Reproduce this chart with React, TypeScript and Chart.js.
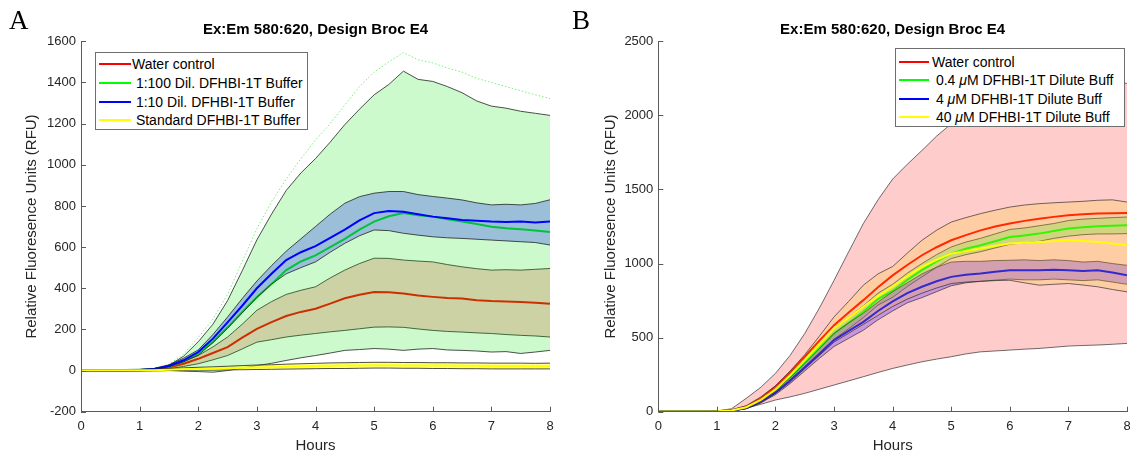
import React, { useEffect, useRef } from 'react';
import { Chart, registerables } from 'chart.js';

Chart.register(...registerables);

const FONT = '"Liberation Sans", Arial, Helvetica, sans-serif';
Chart.defaults.font.family = FONT;

// ---------- data ----------
const HOURS = [0, 0.25, 0.5, 0.75, 1, 1.25, 1.5, 1.75, 2, 2.25, 2.5, 2.75, 3, 3.25, 3.5, 3.75, 4, 4.25, 4.5, 4.75, 5, 5.25, 5.5, 5.75, 6, 6.25, 6.5, 6.75, 7, 7.25, 7.5, 7.75, 8];
const X_TICKS = [0, 1, 2, 3, 4, 5, 6, 7, 8];
const A_Y_TICKS = [-200, 0, 200, 400, 600, 800, 1000, 1200, 1400, 1600];
const B_Y_TICKS = [0, 500, 1000, 1500, 2000, 2500];

const TITLE = 'Ex:Em 580:620, Design Broc E4';
const X_LABEL = 'Hours';
const Y_LABEL = 'Relative Fluoresence Units (RFU)';

const A_LABELS = ['Water control', ' 1:100 Dil. DFHBI-1T Buffer', ' 1:10 Dil. DFHBI-1T Buffer', ' Standard DFHBI-1T Buffer'];
const B_LABELS = ['Water control', ' 0.4 μM DFHBI-1T Dilute Buff', ' 4 μM DFHBI-1T Dilute Buff', ' 40 μM DFHBI-1T Dilute Buff'];
const SERIES_COLORS = ['#ff0000', '#00ff00', '#0000ff', '#ffff00'];

// Panel A: water control (red)
const A_R = [1, 1, 1, 1, 2, 5, 15, 33, 57, 85, 114, 160, 203, 235, 265, 285, 300, 325, 351, 368, 382, 380, 374, 365, 358, 352, 350, 342, 338, 336, 333, 330, 325];
const A_R_HI = [2, 2, 2, 2, 3, 8, 22, 45, 73, 115, 163, 225, 293, 335, 370, 390, 407, 450, 488, 520, 546, 545, 537, 532, 528, 515, 504, 495, 488, 490, 488, 492, 496];
const A_R_LO = [0, 0, 0, 0, 1, 3, 8, 20, 33, 52, 73, 105, 138, 150, 163, 172, 180, 188, 195, 203, 211, 212, 210, 202, 195, 190, 187, 183, 180, 175, 171, 168, 163];
// Panel A: 1:100 dilution (green)
const A_G = [2, 2, 2, 2, 3, 8, 20, 45, 83, 140, 210, 285, 356, 420, 488, 530, 560, 600, 640, 685, 724, 750, 765, 755, 748, 735, 724, 712, 699, 692, 687, 680, 673];
const A_G_HI = [5, 5, 5, 5, 6, 10, 25, 70, 140, 225, 340, 485, 635, 760, 875, 960, 1030, 1110, 1195, 1270, 1340, 1390, 1455, 1415, 1405, 1380, 1350, 1310, 1285, 1275, 1260, 1250, 1240];
const A_G_LO = [-2, -2, -2, -2, -2, -1, 0, -3, -5, -8, 0, 12, 24, 35, 49, 62, 73, 85, 98, 102, 107, 104, 98, 104, 107, 100, 98, 95, 90, 92, 83, 90, 98];
const A_G_DOT = [5, 5, 5, 5, 6, 12, 30, 80, 160, 250, 370, 530, 690, 820, 930, 1030, 1120, 1200, 1290, 1380, 1450, 1500, 1545, 1510, 1495, 1470, 1450, 1420, 1400, 1380, 1360, 1340, 1322];
// Panel A: 1:10 dilution (blue)
const A_B = [2, 2, 2, 2, 3, 8, 22, 50, 90, 155, 234, 315, 400, 470, 537, 575, 605, 645, 685, 730, 765, 775, 772, 760, 748, 740, 732, 728, 724, 722, 724, 720, 724];
const A_B_HI = [3, 3, 3, 3, 4, 10, 28, 60, 100, 175, 260, 350, 435, 510, 580, 640, 700, 760, 813, 845, 862, 870, 870, 855, 846, 838, 829, 815, 805, 808, 805, 812, 830];
const A_B_LO = [1, 1, 1, 1, 2, 6, 18, 42, 75, 135, 205, 280, 355, 420, 470, 500, 528, 575, 618, 655, 683, 680, 667, 658, 650, 645, 642, 638, 634, 630, 626, 622, 610];
// Panel A: standard buffer (yellow)
const A_Y = [1, 1, 1, 1, 1, 2, 4, 6, 8, 9, 11, 13, 15, 16, 18, 20, 22, 23, 24, 25, 26, 26, 25, 25, 24, 24, 23, 23, 22, 22, 22, 21, 21];
const A_Y_HI = [4, 4, 4, 4, 5, 7, 10, 13, 16, 18, 21, 24, 27, 28, 31, 33, 35, 37, 38, 39, 40, 40, 39, 39, 38, 38, 37, 37, 36, 36, 36, 35, 36];
const A_Y_LO = [-2, -2, -2, -2, -2, -1, 0, 1, 2, 2, 3, 4, 5, 6, 7, 8, 9, 10, 10, 11, 12, 12, 11, 11, 10, 10, 9, 9, 8, 8, 8, 8, 8];

// Panel B: water control (red)
const B_R = [2, 2, 2, 2, 3, 10, 35, 90, 169, 265, 371, 480, 584, 670, 753, 840, 920, 990, 1056, 1110, 1157, 1192, 1224, 1250, 1270, 1288, 1303, 1315, 1326, 1332, 1337, 1340, 1341];
const B_R_HI = [3, 3, 3, 3, 5, 20, 90, 165, 259, 380, 528, 700, 887, 1080, 1270, 1430, 1570, 1670, 1763, 1860, 1943, 2010, 2067, 2100, 2130, 2155, 2180, 2195, 2210, 2220, 2230, 2240, 2215];
const B_R_LO = [0, 0, 0, 0, 1, 3, 23, 50, 79, 100, 124, 152, 180, 208, 236, 265, 292, 315, 337, 355, 371, 390, 404, 410, 416, 422, 427, 435, 443, 447, 450, 455, 461];
// Panel B: 0.4 uM (green)
const B_G = [2, 2, 2, 2, 3, 8, 28, 75, 140, 230, 330, 430, 528, 600, 674, 760, 815, 890, 955, 1015, 1067, 1100, 1123, 1150, 1179, 1190, 1202, 1220, 1236, 1245, 1251, 1255, 1258];
const B_G_HI = [3, 3, 3, 3, 4, 10, 33, 85, 155, 250, 355, 460, 565, 640, 715, 800, 860, 935, 1000, 1060, 1112, 1145, 1170, 1200, 1230, 1240, 1255, 1270, 1290, 1300, 1305, 1310, 1314];
const B_G_LO = [1, 1, 1, 1, 2, 6, 23, 65, 125, 210, 305, 400, 490, 560, 635, 720, 772, 845, 910, 975, 1034, 1060, 1080, 1105, 1130, 1140, 1150, 1170, 1185, 1195, 1200, 1200, 1202];
// Panel B: 4 uM (blue)
const B_B = [2, 2, 2, 2, 3, 7, 25, 70, 130, 210, 300, 390, 483, 545, 606, 680, 745, 800, 843, 880, 910, 925, 933, 945, 955, 955, 955, 958, 955, 950, 955, 940, 921];
const B_B_HI = [3, 3, 3, 3, 4, 9, 30, 80, 145, 230, 325, 425, 530, 600, 665, 740, 810, 870, 930, 975, 1010, 1015, 1015, 1020, 1022, 1025, 1020, 1025, 1020, 1010, 1015, 1000, 988];
const B_B_LO = [1, 1, 1, 1, 2, 5, 20, 60, 115, 190, 275, 360, 440, 495, 550, 620, 680, 735, 770, 810, 850, 870, 880, 888, 895, 890, 890, 895, 890, 885, 890, 875, 860];
// Panel B: 40 uM (yellow)
const B_Y = [2, 2, 2, 2, 3, 8, 30, 80, 150, 245, 350, 455, 562, 635, 708, 780, 845, 915, 977, 1025, 1067, 1085, 1101, 1120, 1135, 1140, 1146, 1150, 1157, 1152, 1146, 1135, 1123];
const B_Y_HI = [3, 3, 3, 3, 4, 12, 40, 100, 175, 275, 385, 510, 640, 745, 854, 930, 980, 1070, 1157, 1225, 1280, 1310, 1337, 1360, 1381, 1395, 1404, 1410, 1415, 1420, 1427, 1430, 1415];
const B_Y_LO = [1, 1, 1, 1, 2, 5, 20, 60, 125, 200, 290, 380, 470, 530, 590, 650, 710, 760, 800, 835, 865, 875, 880, 885, 887, 870, 854, 860, 865, 855, 843, 825, 809];

// ---------- helpers ----------
const AXIS = '#5a5a5a';
const TEXT = '#262626';

type Series = { mean: number[]; hi: number[]; lo: number[]; line: string; fill: string; edge: string; dot?: number[]; dotColor?: string };

const pts = (arr: number[]) => HOURS.map((h, i) => ({ x: h, y: arr[i] }));

function makeDatasets(series: Series[]) {
  const ds: any[] = [];
  series.forEach((s) => {
    ds.push({ data: pts(s.hi), fill: '+1', backgroundColor: s.fill, borderColor: s.edge, borderWidth: 0.9 });
    ds.push({ data: pts(s.lo), fill: false, borderColor: s.edge, borderWidth: 0.9 });
    if (s.dot) ds.push({ data: pts(s.dot), fill: false, borderColor: s.dotColor, borderWidth: 1, borderDash: [1.5, 2] });
    ds.push({ data: pts(s.mean), fill: false, borderColor: s.line, borderWidth: 2 });
  });
  const n = ds.length;
  return ds.map((d, i) => ({ ...d, order: n - i, pointRadius: 0, tension: 0 }));
}

const inwardTicks = {
  id: 'inwardTicks',
  afterDatasetsDraw(chart: any) {
    const { ctx, chartArea, scales } = chart;
    const x = scales.x;
    const y = scales.y;
    ctx.save();
    ctx.strokeStyle = AXIS;
    ctx.lineWidth = 1;
    x.ticks.forEach((t: any) => {
      const px = Math.round(x.getPixelForValue(t.value)) + 0.5;
      ctx.beginPath();
      ctx.moveTo(px, chartArea.bottom);
      ctx.lineTo(px, chartArea.bottom - 5);
      ctx.stroke();
    });
    y.ticks.forEach((t: any) => {
      const py = Math.round(y.getPixelForValue(t.value)) + 0.5;
      ctx.beginPath();
      ctx.moveTo(chartArea.left, py);
      ctx.lineTo(chartArea.left + 5, py);
      ctx.stroke();
    });
    ctx.restore();
  },
};

function makeConfig(datasets: any[], yMin: number, yMax: number, yTicks: number[], yWidth: number, yTitlePad: number, padRight: number) {
  return {
    type: 'line',
    data: { datasets },
    plugins: [inwardTicks],
    options: {
      animation: false,
      responsive: false,
      devicePixelRatio: 1,
      events: [],
      layout: { padding: { left: 0, right: padRight, top: 0, bottom: 0 } },
      plugins: {
        legend: { display: false },
        tooltip: { enabled: false },
        title: {
          display: true,
          text: TITLE,
          fullSize: false,
          color: '#000',
          font: { size: 15, weight: 'bold', family: FONT },
          padding: { top: 20.5, bottom: 2.8 },
        },
      },
      scales: {
        x: {
          type: 'linear',
          min: 0,
          max: 8,
          afterBuildTicks: (s: any) => { s.ticks = X_TICKS.map((v) => ({ value: v })); },
          afterFit: (s: any) => { s.height = 43.3; },
          grid: { display: true, drawOnChartArea: false, drawTicks: false },
          border: { display: true, color: AXIS, width: 1, z: 1 },
          ticks: { padding: 7, color: TEXT, font: { size: 13 }, callback: (v: any) => String(v), maxRotation: 0 },
          title: { display: true, text: X_LABEL, color: TEXT, font: { size: 15 }, padding: { top: 0, bottom: 0 } },
        },
        y: {
          type: 'linear',
          min: yMin,
          max: yMax,
          afterBuildTicks: (s: any) => { s.ticks = yTicks.map((v) => ({ value: v })); },
          afterFit: (s: any) => { s.width = yWidth; },
          grid: { display: true, drawOnChartArea: false, drawTicks: false },
          border: { display: true, color: AXIS, width: 1, z: 1 },
          ticks: { padding: 5, color: TEXT, font: { size: 13 }, callback: (v: any) => String(v) },
          title: { display: true, text: Y_LABEL, color: TEXT, font: { size: 15 }, padding: { top: yTitlePad, bottom: 0 } },
        },
      },
    },
  };
}

const EDGE_A = 'rgba(25,25,25,0.85)';
const EDGE_B = 'rgba(40,40,40,0.75)';

const SERIES_A: Series[] = [
  { mean: A_R, hi: A_R_HI, lo: A_R_LO, line: SERIES_COLORS[0], fill: 'rgba(255,0,0,0.2)', edge: EDGE_A },
  { mean: A_G, hi: A_G_HI, lo: A_G_LO, line: SERIES_COLORS[1], fill: 'rgba(0,230,0,0.2)', edge: EDGE_A, dot: A_G_DOT, dotColor: 'rgba(120,235,120,0.95)' },
  { mean: A_B, hi: A_B_HI, lo: A_B_LO, line: SERIES_COLORS[2], fill: 'rgba(0,0,255,0.24)', edge: EDGE_A },
  { mean: A_Y, hi: A_Y_HI, lo: A_Y_LO, line: SERIES_COLORS[3], fill: 'rgba(255,255,0,0.45)', edge: EDGE_A },
];

const SERIES_B: Series[] = [
  { mean: B_R, hi: B_R_HI, lo: B_R_LO, line: SERIES_COLORS[0], fill: 'rgba(255,0,0,0.2)', edge: EDGE_B },
  { mean: B_G, hi: B_G_HI, lo: B_G_LO, line: SERIES_COLORS[1], fill: 'rgba(0,255,0,0.22)', edge: EDGE_B },
  { mean: B_B, hi: B_B_HI, lo: B_B_LO, line: SERIES_COLORS[2], fill: 'rgba(60,0,255,0.28)', edge: EDGE_B },
  { mean: B_Y, hi: B_Y_HI, lo: B_Y_LO, line: SERIES_COLORS[3], fill: 'rgba(255,205,0,0.2)', edge: EDGE_B },
];

function ChartPanel({ left, width, config }: { left: number; width: number; config: any }) {
  const ref = useRef<HTMLCanvasElement | null>(null);
  useEffect(() => {
    if (!ref.current) return;
    const chart = new Chart(ref.current, config);
    return () => chart.destroy();
  }, [config]);
  return (
    <div style={{ position: 'absolute', left, top: 0, width, height: 455 }}>
      <canvas ref={ref} width={width} height={455} style={{ width, height: 455, display: 'block' }} />
    </div>
  );
}

function renderLabel(text: string) {
  const parts = text.split('μ');
  if (parts.length === 1) return text;
  return (
    <>
      {parts[0]}
      <i>μ</i>
      {parts[1]}
    </>
  );
}

function Legend({ left, top, width, height, rows, labels, lineW }: { left: number; top: number; width: number; height: number; rows: number[]; labels: string[]; lineW: number }) {
  return (
    <div style={{ position: 'absolute', left, top, width, height, border: '1px solid #6e6e6e', background: '#fff', boxSizing: 'border-box' }}>
      {labels.map((lab, i) => (
        <React.Fragment key={i}>
          <div style={{ position: 'absolute', left: 3, top: rows[i] - 1, width: lineW, height: 2, background: SERIES_COLORS[i] }} />
          <div style={{ position: 'absolute', left: 36, top: rows[i] - 9, height: 18, lineHeight: '18px', fontFamily: FONT, fontSize: 14, color: '#000', whiteSpace: 'pre' }}>
            {renderLabel(lab)}
          </div>
        </React.Fragment>
      ))}
    </div>
  );
}

const CONFIG_A = makeConfig(makeDatasets(SERIES_A), -200, 1600, A_Y_TICKS, 81, 23, 15);
const CONFIG_B = makeConfig(makeDatasets(SERIES_B), 0, 2500, B_Y_TICKS, 93.3, 37, 15);

export default function App() {
  const letter: React.CSSProperties = { position: 'absolute', top: 7.4, fontFamily: '"Liberation Serif", "Times New Roman", serif', fontSize: 27, lineHeight: '27px', color: '#000' };
  return (
    <div style={{ position: 'absolute', left: 0, top: 0, width: 1130, height: 455, background: '#fff', overflow: 'hidden' }}>
      <ChartPanel left={0} width={565} config={CONFIG_A} />
      <ChartPanel left={565} width={577} config={CONFIG_B} />
      <div style={{ ...letter, left: 9 }}>A</div>
      <div style={{ ...letter, left: 572 }}>B</div>
      <Legend left={95} top={52} width={213} height={78} rows={[11.3, 30.3, 48.7, 67]} labels={A_LABELS} lineW={32} />
      <Legend left={895} top={48} width={230} height={79} rows={[12.7, 31.3, 49.7, 68]} labels={B_LABELS} lineW={30} />
    </div>
  );
}
